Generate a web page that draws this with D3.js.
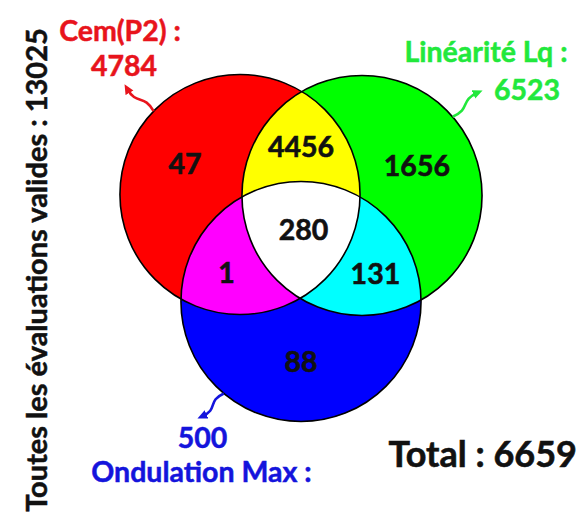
<!DOCTYPE html>
<html><head><meta charset="utf-8">
<script src="https://cdn.jsdelivr.net/npm/d3@7"></script>
<style>html,body{margin:0;padding:0;background:#fff;} svg{display:block;}</style>
</head><body>
<svg id="chart" width="579" height="513"></svg>
<script>
// ---- data ----
const setKeys = ["A", "B", "C"];
const setNames = ["Cem(P2)", "Linéarité Lq", "Ondulation Max"];
const setTotals = [4784, 6523, 500];
const regionSets = [["A"], ["B"], ["C"], ["A","B"], ["A","C"], ["B","C"], ["A","B","C"]];
const regionValues = [47, 1656, 88, 4456, 1, 131, 280];
const validTotal = 13025;
const grandTotal = 6659;

// ---- layout (unit Venn geometry) ----
const unitCenters = {A: [-0.5, 0], B: [0.5, 0.008], C: [0, 0.877]};
const unitRadius = 0.984;
const x = d3.scaleLinear().domain([-1, 1]).range([179, 423]);
const y = d3.scaleLinear().domain([0, 1]).range([194.5, 316.5]);
const rPx = x(unitRadius) - x(0);

const regionFill = {A: "#ff0000", B: "#00ff00", C: "#0000ff", AB: "#ffff00", AC: "#ff00ff", BC: "#00ffff", ABC: "#ffffff"};
const labelColor = {A: "#e8141c", B: "#22e83c", C: "#1414dc"};
const FONT = "Lato, 'Open Sans', sans-serif";

const svg = d3.select("#chart");
const defs = svg.append("defs");
const cpx = k => x(unitCenters[k][0]);
const cpy = k => y(unitCenters[k][1]);

setKeys.forEach(k => {
  defs.append("clipPath").attr("id", "clip" + k)
    .append("circle").attr("cx", cpx(k)).attr("cy", cpy(k)).attr("r", rPx);
});

const venn = svg.append("g");
setKeys.forEach(k => {
  venn.append("circle").attr("cx", cpx(k)).attr("cy", cpy(k)).attr("r", rPx).attr("fill", regionFill[k]);
});
[["A","B"],["A","C"],["B","C"]].forEach(([p, q]) => {
  venn.append("circle").attr("cx", cpx(q)).attr("cy", cpy(q)).attr("r", rPx)
    .attr("clip-path", `url(#clip${p})`).attr("fill", regionFill[p + q]);
});
venn.append("g").attr("clip-path", "url(#clipA)")
  .append("circle").attr("cx", cpx("C")).attr("cy", cpy("C")).attr("r", rPx)
  .attr("clip-path", "url(#clipB)").attr("fill", regionFill.ABC);
setKeys.forEach(k => {
  venn.append("circle").attr("cx", cpx(k)).attr("cy", cpy(k)).attr("r", rPx)
    .attr("fill", "none").attr("stroke", "#000").attr("stroke-width", 1.6);
});

// region labels
const centroid = [d3.mean(setKeys, k => unitCenters[k][0]), d3.mean(setKeys, k => unitCenters[k][1])];
function regionPos(sets) {
  if (sets.length === 1) {
    const c = unitCenters[sets[0]];
    return [centroid[0] + 1.9 * (c[0] - centroid[0]), centroid[1] + 1.85 * (c[1] - centroid[1])];
  }
  if (sets.length === 2) {
    const other = setKeys.find(k => !sets.includes(k));
    const c = unitCenters[other];
    const f = other === "C" ? 1.17 : 1.22;
    return [centroid[0] - f * (c[0] - centroid[0]), centroid[1] - f * (c[1] - centroid[1])];
  }
  return [centroid[0] + 0.02, centroid[1]];
}
const numSize = 28.5;
svg.append("g").selectAll("text").data(regionValues).join("text")
  .attr("x", (d, i) => x(regionPos(regionSets[i])[0]))
  .attr("y", (d, i) => y(regionPos(regionSets[i])[1]) + numSize * 0.35)
  .attr("text-anchor", "middle")
  .attr("font-family", FONT).attr("font-weight", 700).attr("font-size", numSize)
  .attr("fill", "#111").attr("stroke", "#111").attr("stroke-width", 0.6)
  .text(d => d);

// set labels & arrows
const setLabelLayout = {
  A: {name: [-120, -154], total: [-116, -119], angle: -136, tip: [-113, -106]},
  B: {name: [124, -133], total: [165, -95], angle: -41, tip: [116, -103]},
  C: {name: [-99.5, 181], total: [-98.5, 147], angle: 130, tip: [-99, 115]}
};
setKeys.forEach((k, i) => {
  const L = setLabelLayout[k];
  const cx = cpx(k), cy = cpy(k);
  const g = svg.append("g").attr("fill", labelColor[k])
    .attr("stroke", labelColor[k]).attr("stroke-width", 0.5)
    .attr("font-family", FONT).attr("font-weight", 700).attr("font-size", numSize)
    .attr("text-anchor", "middle");
  g.append("text").attr("x", cx + L.name[0]).attr("y", cy + L.name[1]).text(setNames[i] + " :");
  g.append("text").attr("x", cx + L.total[0]).attr("y", cy + L.total[1]).text(setTotals[i]);

  defs.append("marker").attr("id", "head" + k)
    .attr("viewBox", "0 -5 10 10").attr("refX", 5).attr("refY", 0)
    .attr("markerWidth", 10).attr("markerHeight", 10).attr("markerUnits", "userSpaceOnUse")
    .attr("orient", "auto")
    .append("path").attr("d", "M0,-4.5L10,0L0,4.5Z").attr("fill", labelColor[k]);
  const a = L.angle * Math.PI / 180;
  const S = [cx + rPx * Math.cos(a), cy + rPx * Math.sin(a)];
  const E = [cx + L.tip[0], cy + L.tip[1]];
  const dx = E[0] - S[0], dy = E[1] - S[1];
  const len = Math.hypot(dx, dy);
  const n = [-dy / len, dx / len];
  const w = 7;
  const c1 = [S[0] + 0.55 * dx + n[0] * w, S[1] + 0.55 * dy + n[1] * w];
  const c2 = [S[0] + 0.45 * dx - n[0] * w, S[1] + 0.45 * dy - n[1] * w];
  svg.append("path")
    .attr("d", `M${S[0]},${S[1]}C${c1[0]},${c1[1]} ${c2[0]},${c2[1]} ${E[0]},${E[1]}`)
    .attr("fill", "none").attr("stroke", labelColor[k]).attr("stroke-width", 2.6)
    .attr("marker-end", `url(#head${k})`);
});

// vertical title
svg.append("text")
  .attr("transform", "translate(47,270) rotate(-90)")
  .attr("text-anchor", "middle")
  .attr("font-family", FONT).attr("font-weight", 700).attr("font-size", 29)
  .attr("fill", "#111").attr("stroke", "#111").attr("stroke-width", 0.5)
  .text("Toutes les évaluations valides : " + validTotal);

// total
svg.append("text")
  .attr("x", 577).attr("y", 467)
  .attr("text-anchor", "end")
  .attr("font-family", FONT).attr("font-weight", 700).attr("font-size", 36)
  .attr("fill", "#111").attr("stroke", "#111").attr("stroke-width", 0.6)
  .text("Total : " + grandTotal);
</script>
</body></html>
